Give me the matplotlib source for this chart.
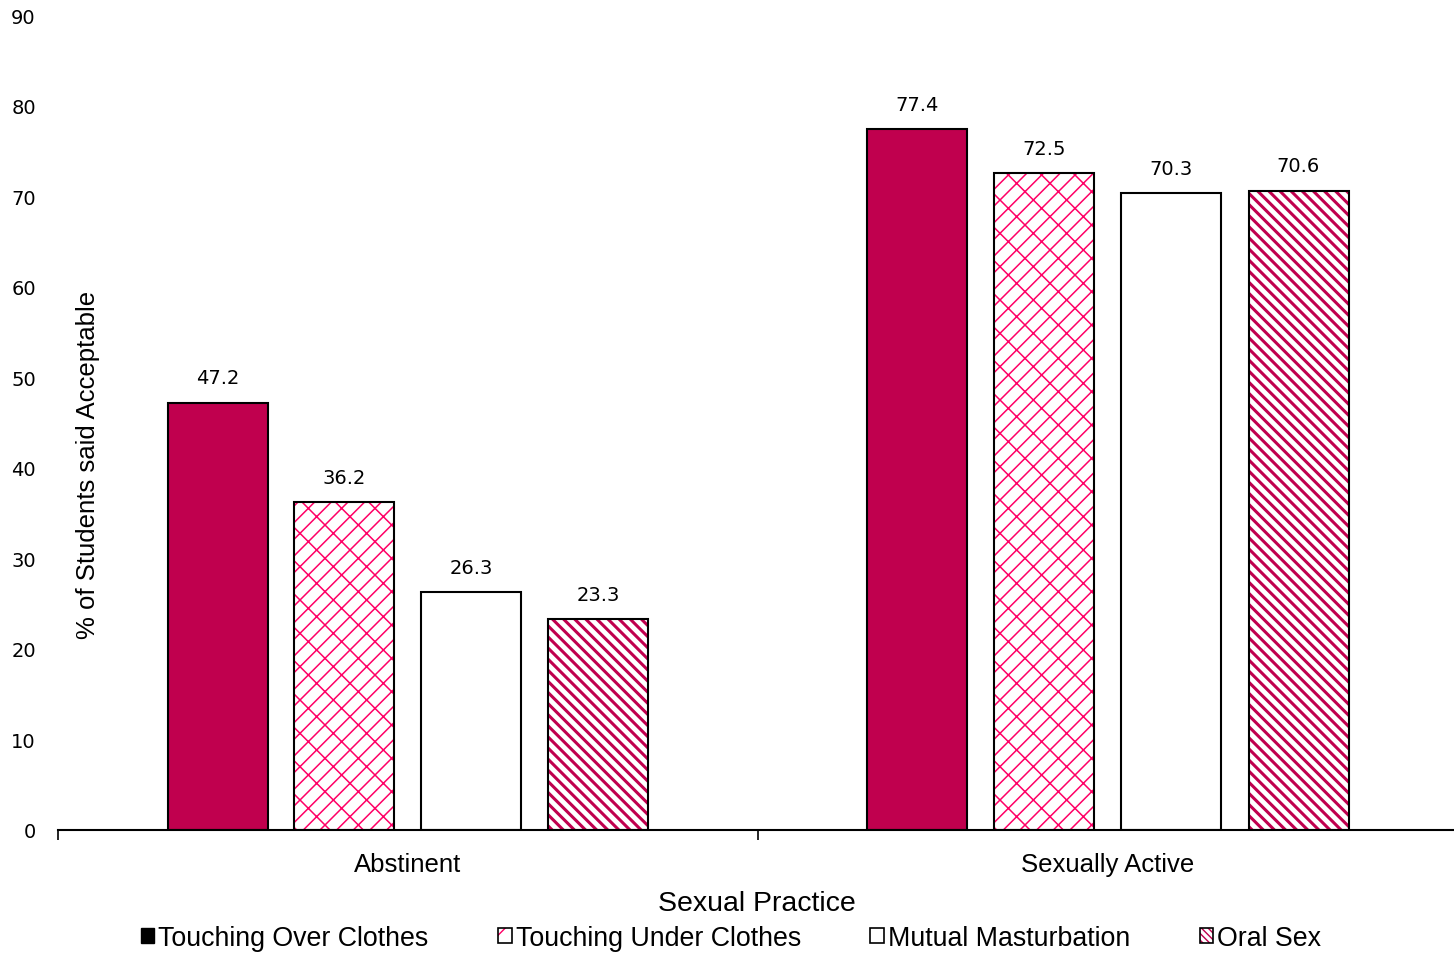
import numpy as np
import matplotlib.pyplot as plt
from matplotlib.patches import Patch
from matplotlib.legend_handler import HandlerTuple

categories = ['Abstinent', 'Sexually Active']
series = ['Touching Over Clothes', 'Touching Under Clothes', 'Mutual Masturbation', 'Oral Sex']
values = [
    [47.2, 77.4],
    [36.2, 72.5],
    [26.3, 70.3],
    [23.3, 70.6],
]

crimson = '#C0004E'
pink = '#FF0066'

fig = plt.figure(figsize=(14.54, 9.54), dpi=100)
ax = fig.add_axes([58/1454, 1-831/954, 1400/1454, 815/954])

x = np.arange(len(categories))
step = 127/700
width = 100/700
offsets = (np.arange(4) - 1.5) * step

# fill / hatch style per series
styles = [
    dict(face=crimson, hatch=None, hcolor=None, hlw=1.0),
    dict(face='white', hatch='//\\', hcolor=pink, hlw=1.1),
    dict(face='white', hatch=None, hcolor=None, hlw=1.0),
    dict(face='white', hatch='\\\\\\', hcolor=crimson, hlw=2.2),
]

for i, (vals, st) in enumerate(zip(values, styles)):
    xs = x + offsets[i]
    if st['hatch']:
        plt.rcParams['hatch.linewidth'] = st['hlw']
        bars = ax.bar(xs, vals, width, color=st['face'], edgecolor=st['hcolor'],
                      hatch=st['hatch'], linewidth=0)
        for b in bars:
            if hasattr(b, 'set_hatch_linewidth'):
                b.set_hatch_linewidth(st['hlw'])
        ax.bar(xs, vals, width, fill=False, edgecolor='black', linewidth=1.5)
    else:
        ax.bar(xs, vals, width, color=st['face'], edgecolor='black', linewidth=1.5)
    for xi, v in zip(xs, vals):
        ax.annotate(f'{v:.1f}', (xi, v), xytext=(0, 11), textcoords='offset points',
                    ha='center', va='bottom', fontsize=14, family='DejaVu Sans')

ax.set_xlim(-0.5, 1.5)
ax.set_ylim(0, 90)
ax.set_yticks(range(0, 91, 10))
ax.tick_params(axis='y', length=0, pad=16, labelsize=14)

ax.set_xticks(x)
ax.set_xticklabels(categories, fontsize=18.5, family='Liberation Sans')
ax.set_xticks([-0.5, 0.5, 1.5], minor=True)
ax.tick_params(axis='x', which='major', length=0, pad=16)
ax.tick_params(axis='x', which='minor', length=7, width=1.2, direction='out')

for s in ['left', 'top', 'right']:
    ax.spines[s].set_visible(False)
ax.spines['bottom'].set_linewidth(1.5)

ax.text(30/1400, (831-465)/815, '% of Students said Acceptable',
        transform=ax.transAxes, rotation=90, ha='center', va='center',
        fontsize=18.5, family='Liberation Sans')

fig.text(757/1454, 1-904/954, 'Sexual Practice', ha='center', va='center',
         fontsize=20.5, family='Liberation Sans')

plt.rcParams['hatch.linewidth'] = 1.0
handles = [
    Patch(facecolor='black', edgecolor='black'),
    (Patch(facecolor='white', edgecolor=pink, hatch='/', linewidth=0),
     Patch(fill=False, edgecolor='black', linewidth=1.2)),
    Patch(facecolor='white', edgecolor='black', linewidth=1.2),
    (Patch(facecolor='white', edgecolor=crimson, hatch='\\\\\\\\\\', linewidth=0),
     Patch(fill=False, edgecolor='black', linewidth=1.2)),
]
leg = fig.legend(handles, series, loc='center', bbox_to_anchor=(731/1454, 15/954),
                 ncol=4, frameon=False, handlelength=0.5, handleheight=0.5,
                 handletextpad=0.15, columnspacing=2.6,
                 handler_map={tuple: HandlerTuple(ndivide=1, pad=0)},
                 prop={'family': 'Liberation Sans', 'size': 19.3})

fig.savefig('out.png', dpi=100)
